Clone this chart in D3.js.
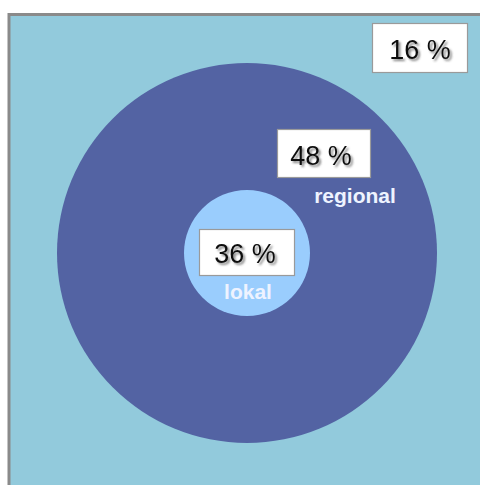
<!DOCTYPE html>
<html>
<head>
<meta charset="utf-8">
<script src="https://cdn.jsdelivr.net/npm/d3@7"></script>
<style>
  html, body { margin: 0; padding: 0; background: #ffffff; }
  svg { display: block; }
</style>
</head>
<body>
<script>
// Shares of the three spatial levels (outer area, regional ring, local core)
const levels = ["outer", "regional", "lokal"];
const shares = [16, 48, 36];
const ringLabels = [null, "regional", "lokal"];

const W = 480, H = 485;
const svg = d3.select("body").append("svg").attr("width", W).attr("height", H);

const defs = svg.append("defs");
const ts = defs.append("filter").attr("id", "txtShadow")
  .attr("x", "-20%").attr("y", "-20%").attr("width", "150%").attr("height", "160%");
ts.append("feDropShadow").attr("dx", 2).attr("dy", 2).attr("stdDeviation", 1.3)
  .attr("flood-color", "#444").attr("flood-opacity", 0.65);

// Panel
const panel = { x: 9, y: 14.5 };
svg.append("rect")
  .attr("x", panel.x).attr("y", panel.y)
  .attr("width", W + 10).attr("height", H + 10)
  .attr("fill", "#92CADC").attr("stroke", "#8a8a8a").attr("stroke-width", 3);

// Concentric circles: radius per level
const cx = 247, cy = 253;
const radius = d3.scaleOrdinal().domain(levels).range([0, 190, 63]);
const colour = d3.scaleOrdinal().domain(levels).range(["#92CADC", "#5363A3", "#9ACDFD"]);

svg.selectAll("circle.ring")
  .data(levels.slice(1))
  .join("circle")
  .attr("class", "ring")
  .attr("cx", cx).attr("cy", cy)
  .attr("r", d => radius(d))
  .attr("fill", d => colour(d));

// Value boxes and ring names
const boxLayout = {
  outer:    { x: 372, y: 23,  w: 95, h: 49, tx: 420, ty: 59,  nx: 0,   ny: 0 },
  regional: { x: 277, y: 129, w: 93, h: 48, tx: 321, ty: 165, nx: 355, ny: 203 },
  lokal:    { x: 199, y: 229, w: 95, h: 46, tx: 245, ty: 263, nx: 248, ny: 299 }
};

const items = levels.map((l, i) => ({ level: l, share: shares[i], name: ringLabels[i] }));

const g = svg.selectAll("g.lab").data(items).join("g").attr("class", "lab");

g.append("rect")
  .attr("x", d => boxLayout[d.level].x + 0.5)
  .attr("y", d => boxLayout[d.level].y + 0.5)
  .attr("width", d => boxLayout[d.level].w)
  .attr("height", d => boxLayout[d.level].h)
  .attr("fill", "#ffffff").attr("stroke", "#9a9a9a").attr("stroke-width", 1.2);

g.append("text")
  .attr("x", d => boxLayout[d.level].tx)
  .attr("y", d => boxLayout[d.level].ty)
  .attr("text-anchor", "middle")
  .attr("font-family", "'Liberation Sans', Arial, sans-serif")
  .attr("font-size", 27)
  .attr("fill", "#111")
  .attr("filter", "url(#txtShadow)")
  .text(d => d.share + " %");

g.filter(d => d.name)
  .append("text")
  .attr("x", d => boxLayout[d.level].nx)
  .attr("y", d => boxLayout[d.level].ny)
  .attr("text-anchor", "middle")
  .attr("font-family", "'Liberation Sans', Arial, sans-serif")
  .attr("font-size", 21)
  .attr("font-weight", "bold")
  .attr("fill", "#eef3ff")
  .text(d => d.name);
</script>
</body>
</html>
